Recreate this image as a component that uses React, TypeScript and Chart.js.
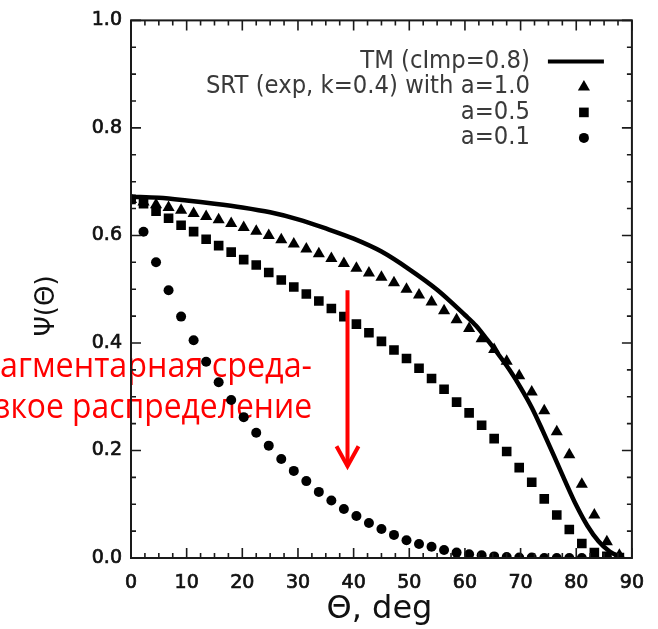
import React, { useEffect, useRef } from "react";
import { Chart, registerables } from "chart.js";

Chart.register(...registerables);

// Scattering angle (deg) of the SRT points
const thetaDeg = [
  0, 2.25, 4.5, 6.75, 9, 11.25, 13.5, 15.75, 18, 20.25,
  22.5, 24.75, 27, 29.25, 31.5, 33.75, 36, 38.25, 40.5, 42.75,
  45, 47.25, 49.5, 51.75, 54, 56.25, 58.5, 60.75, 63, 65.25,
  67.5, 69.75, 72, 74.25, 76.5, 78.75, 81, 83.25, 85.5, 87.75,
];

// SRT (exp, k=0.4), a=1.0 (triangles)
const psiA10 = [
  0.667, 0.662, 0.657, 0.652, 0.647, 0.641, 0.635, 0.629, 0.622, 0.615,
  0.608, 0.600, 0.592, 0.584, 0.575, 0.566, 0.557, 0.548, 0.539, 0.530,
  0.522, 0.512, 0.500, 0.489, 0.476, 0.460, 0.443, 0.427, 0.408, 0.388,
  0.366, 0.339, 0.309, 0.274, 0.235, 0.192, 0.137, 0.080, 0.030, 0.005,
];

// a=0.5 (squares)
const psiA05 = [
  0.667, 0.659, 0.645, 0.632, 0.619, 0.607, 0.593, 0.581, 0.569, 0.555,
  0.545, 0.531, 0.517, 0.504, 0.491, 0.478, 0.464, 0.449, 0.435, 0.419,
  0.403, 0.387, 0.371, 0.353, 0.334, 0.314, 0.290, 0.270, 0.247, 0.222,
  0.198, 0.168, 0.141, 0.110, 0.080, 0.053, 0.027, 0.010, 0.003, 0.001,
];

// a=0.1 (circles)
const psiA01 = [
  0.667, 0.607, 0.550, 0.498, 0.449, 0.405, 0.365, 0.327, 0.294, 0.262,
  0.233, 0.209, 0.184, 0.162, 0.143, 0.123, 0.107, 0.091, 0.078, 0.065,
  0.054, 0.043, 0.033, 0.026, 0.021, 0.015, 0.010, 0.007, 0.005, 0.003,
  0.002, 0.001, 0.001, 0, 0, 0, 0, 0, 0, 0,
];

// TM (cImp=0.8) curve
const tmTheta = [
  0, 5, 10, 15, 20, 25, 30, 35, 40, 45, 50, 55, 60, 62, 64, 66, 68, 70,
  72, 74, 76, 78, 80, 82, 84, 86, 88,
];
const tmPsi = [
  0.672, 0.670, 0.665, 0.659, 0.652, 0.643, 0.630, 0.613, 0.594, 0.570, 0.537,
  0.499, 0.452, 0.432, 0.406, 0.379, 0.350, 0.317, 0.280, 0.236, 0.190, 0.143,
  0.098, 0.060, 0.031, 0.012, 0.001,
];

const legendLabels = ["TM (cImp=0.8)", "SRT (exp, k=0.4) with a=1.0", "a=0.5", "a=0.1"];
const xTickLabels = ["0", "10", "20", "30", "40", "50", "60", "70", "80", "90"];
const yTickLabels = ["0.0", "0.2", "0.4", "0.6", "0.8", "1.0"];
const xTitle = "Θ, deg";
const yTitle = "Ψ(Θ)";
const noteLines = ["агментарная среда-", "зкое распределение"];

// arrow in data coordinates
const arrowTheta = 38.9;
const arrowFrom = 0.498;
const arrowTo = 0.167;

const AXIS_COLOR = "#1a1a1a";

const framePlugin = {
  id: "frameTicks",
  afterDatasetsDraw(chart: any) {
    const { ctx, chartArea } = chart;
    const { left, right, top, bottom } = chartArea;
    const xs = chart.scales.x;
    const ys = chart.scales.y;
    ctx.save();
    ctx.strokeStyle = AXIS_COLOR;
    ctx.lineWidth = 1.6;
    ctx.beginPath();
    // minor + major x ticks (every 2.5 deg, major every 10)
    for (let k = 0; k <= 36; k++) {
      const v = k * 2.5;
      const px = xs.getPixelForValue(v);
      const len = k % 4 === 0 ? 10 : 5;
      ctx.moveTo(px, bottom);
      ctx.lineTo(px, bottom - len);
      ctx.moveTo(px, top);
      ctx.lineTo(px, top + len);
    }
    for (let k = 0; k <= 20; k++) {
      const v = k * 0.05;
      const py = ys.getPixelForValue(v);
      const len = k % 4 === 0 ? 10 : 5;
      ctx.moveTo(left, py);
      ctx.lineTo(left + len, py);
      ctx.moveTo(right, py);
      ctx.lineTo(right - len, py);
    }
    ctx.stroke();
    ctx.lineWidth = 2;
    ctx.strokeRect(left, top, right - left, bottom - top);

    // axis titles
    ctx.fillStyle = "#111";
    ctx.font = '32px "DejaVu Sans"';
    ctx.textAlign = "center";
    ctx.textBaseline = "middle";
    ctx.fillText(xTitle, (left + right) / 2 - 2, 610);
    ctx.save();
    ctx.translate(47, 306);
    ctx.rotate(-Math.PI / 2);
    ctx.font = '26px "DejaVu Sans"';
    ctx.fillText(yTitle, 0, 0);
    ctx.restore();
    ctx.restore();
  },
};

const legendPlugin = {
  id: "customLegend",
  afterDatasetsDraw(chart: any) {
    const { ctx, chartArea } = chart;
    const { right, top } = chartArea;
    ctx.save();
    ctx.font = '25px "DejaVu Sans"';
    const refW = ctx.measureText(legendLabels[1]).width;
    const f = 324 / refW;
    const textRight = right - 102;
    const symX = right - 48;
    const rows = [top + 41, top + 66.5, top + 92, top + 117.5];
    ctx.fillStyle = "#3a3a3a";
    ctx.textAlign = "right";
    ctx.textBaseline = "middle";
    legendLabels.forEach((lab, i) => {
      ctx.save();
      ctx.translate(textRight, rows[i]);
      ctx.scale(f, 1);
      ctx.fillText(lab, 0, 0);
      ctx.restore();
    });
    ctx.fillStyle = "#000";
    ctx.strokeStyle = "#000";
    ctx.lineWidth = 4;
    ctx.beginPath();
    ctx.moveTo(right - 84, rows[0]);
    ctx.lineTo(right - 28, rows[0]);
    ctx.stroke();
    // triangle
    const r = 7;
    ctx.beginPath();
    ctx.moveTo(symX, rows[1] - r);
    ctx.lineTo(symX + 0.866 * r, rows[1] + r / 2);
    ctx.lineTo(symX - 0.866 * r, rows[1] + r / 2);
    ctx.closePath();
    ctx.fill();
    // square
    const s = 6.8 / Math.SQRT2;
    ctx.fillRect(symX - s, rows[2] - s, 2 * s, 2 * s);
    // circle
    ctx.beginPath();
    ctx.arc(symX, rows[3], 5, 0, Math.PI * 2);
    ctx.fill();
    ctx.restore();
  },
};

const notePlugin = {
  id: "redNote",
  beforeDatasetsDraw(chart: any) {
    const { ctx } = chart;
    ctx.save();
    ctx.fillStyle = "#ff0000";
    ctx.font = '35px "Open Sans"';
    ctx.textAlign = "left";
    ctx.textBaseline = "alphabetic";
    const w1 = ctx.measureText(noteLines[0]).width;
    const w2 = ctx.measureText(noteLines[1]).width;
    ctx.save();
    ctx.translate(0, 377);
    ctx.scale(312 / w1, 1);
    ctx.fillText(noteLines[0], 0, 0);
    ctx.restore();
    ctx.save();
    ctx.translate(-5, 418);
    ctx.scale(317 / w2, 1);
    ctx.fillText(noteLines[1], 0, 0);
    ctx.restore();
    ctx.restore();
  },
  afterDraw(chart: any) {
    const { ctx } = chart;
    const xs = chart.scales.x;
    const ys = chart.scales.y;
    const x = xs.getPixelForValue(arrowTheta);
    const y1 = ys.getPixelForValue(arrowFrom);
    const y2 = ys.getPixelForValue(arrowTo);
    ctx.save();
    ctx.strokeStyle = "#ff0000";
    ctx.lineWidth = 4;
    ctx.lineCap = "butt";
    ctx.beginPath();
    ctx.moveTo(x, y1);
    ctx.lineTo(x, y2 - 2);
    ctx.stroke();
    ctx.lineJoin = "miter";
    ctx.beginPath();
    ctx.moveTo(x - 11, y2 - 22);
    ctx.lineTo(x, y2 - 2);
    ctx.lineTo(x + 11, y2 - 22);
    ctx.stroke();
    ctx.restore();
  },
};

export default function App() {
  const ref = useRef<HTMLCanvasElement>(null);
  useEffect(() => {
    document.body.style.margin = "0";
    const tickFont = { family: "DejaVu Sans", size: 19 };
    const chart = new Chart(ref.current as HTMLCanvasElement, {
      type: "scatter",
      data: {
        datasets: [
          {
            label: legendLabels[0],
            data: tmTheta.map((t, i) => ({ x: t, y: tmPsi[i] })),
            showLine: true,
            borderColor: "#000",
            borderWidth: 4.5,
            pointRadius: 0,
            cubicInterpolationMode: "monotone",
            fill: false,
          } as any,
          {
            label: legendLabels[1],
            data: thetaDeg.map((t, i) => ({ x: t, y: psiA10[i] })),
            pointStyle: "triangle",
            pointRadius: 7,
            pointBackgroundColor: "#000",
            pointBorderWidth: 0,
            showLine: false,
          },
          {
            label: legendLabels[2],
            data: thetaDeg.map((t, i) => ({ x: t, y: psiA05[i] })),
            pointStyle: "rect",
            pointRadius: 6.8,
            pointBackgroundColor: "#000",
            pointBorderWidth: 0,
            showLine: false,
          },
          {
            label: legendLabels[3],
            data: thetaDeg.map((t, i) => ({ x: t, y: psiA01[i] })),
            pointStyle: "circle",
            pointRadius: 5,
            pointBackgroundColor: "#000",
            pointBorderWidth: 0,
            showLine: false,
          },
        ],
      },
      options: {
        animation: false,
        responsive: false,
        devicePixelRatio: 1,
        layout: { padding: { top: 12, right: 21, left: 0, bottom: 0 } },
        plugins: { legend: { display: false }, tooltip: { enabled: false } },
        scales: {
          x: {
            type: "linear",
            min: 0,
            max: 90,
            afterFit: (s: any) => {
              s.height = 71;
            },
            grid: { display: false, drawTicks: false },
            border: { display: false },
            ticks: {
              stepSize: 10,
              padding: 14,
              color: "#111",
              textStrokeColor: "#111",
              textStrokeWidth: 0.7,
              font: tickFont,
              maxRotation: 0,
              autoSkip: false,
              callback: (_v: any, i: number) => xTickLabels[i],
            },
          },
          y: {
            type: "linear",
            min: 0,
            max: 1,
            afterFit: (s: any) => {
              s.width = 131;
            },
            grid: { display: false, drawTicks: false },
            border: { display: false },
            ticks: {
              stepSize: 0.2,
              padding: 9,
              color: "#111",
              textStrokeColor: "#111",
              textStrokeWidth: 0.7,
              font: tickFont,
              autoSkip: false,
              callback: (_v: any, i: number) => yTickLabels[i],
            },
          },
        },
      },
      plugins: [notePlugin, framePlugin, legendPlugin],
    });
    return () => chart.destroy();
  }, []);
  return (
    <div style={{ position: "fixed", left: 0, top: 0, width: 658, height: 629, background: "#fff" }}>
      <canvas ref={ref} width={658} height={629} style={{ width: 658, height: 629, display: "block" }} />
    </div>
  );
}
